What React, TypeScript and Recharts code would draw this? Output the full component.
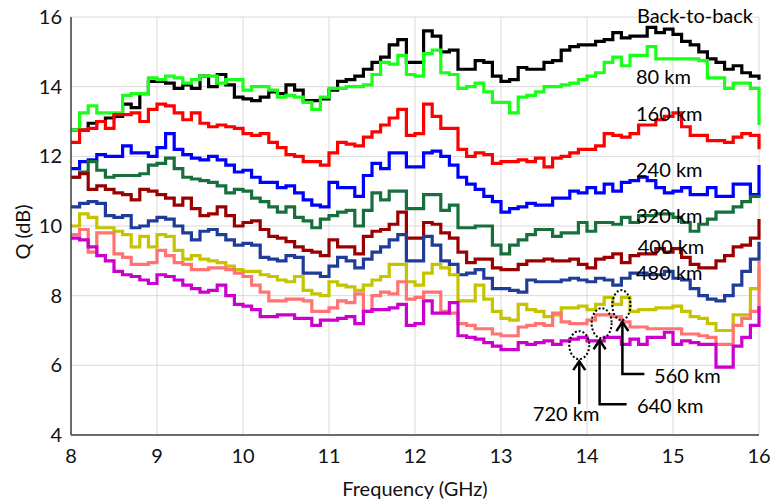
import { LineChart, Line, XAxis, YAxis, CartesianGrid, ReferenceDot } from 'recharts';

// frequency points (GHz)
const FREQ = [
  8.0, 8.1, 8.2, 8.3, 8.4, 8.5, 8.6, 8.7, 8.8, 8.9,
  9.0, 9.1, 9.2, 9.3, 9.4, 9.5, 9.6, 9.7, 9.8, 9.9,
  10.0, 10.1, 10.2, 10.3, 10.4, 10.5, 10.6, 10.7, 10.8, 10.9,
  11.0, 11.1, 11.2, 11.3, 11.4, 11.5, 11.6, 11.7, 11.8, 11.9,
  12.0, 12.1, 12.2, 12.3, 12.4, 12.5, 12.6, 12.7, 12.8, 12.9,
  13.0, 13.1, 13.2, 13.3, 13.4, 13.5, 13.6, 13.7, 13.8, 13.9,
  14.0, 14.1, 14.2, 14.3, 14.4, 14.5, 14.6, 14.7, 14.8, 14.9,
  15.0, 15.1, 15.2, 15.3, 15.4, 15.5, 15.6, 15.7, 15.8, 15.9,
  16.0,
];

// Q values (dB) per transmission distance
const B2B = [
  12.75, 12.75, 12.95, 13.0, 13.1, 13.15, 13.5, 13.4, 13.8, 14.15,
  14.15, 14.1, 13.95, 14.05, 13.95, 14.3, 14.0, 14.35, 14.05, 13.7,
  13.65, 13.6, 13.7, 13.85, 13.8, 14.05, 13.9, 13.6, 13.6, 13.65,
  13.9, 14.15, 14.2, 14.3, 14.5, 14.7, 14.85, 15.2, 15.35, 14.7,
  14.7, 15.6, 15.45, 15.0, 15.05, 14.5, 14.5, 14.75, 14.7, 14.3,
  14.15, 14.2, 14.55, 14.5, 14.5, 14.7, 14.75, 15.05, 15.15, 15.2,
  15.2, 15.3, 15.35, 15.55, 15.4, 15.45, 15.45, 15.7, 15.55, 15.65,
  15.5, 15.3, 15.2, 15.0, 14.8, 14.7, 14.5, 14.6, 14.4, 14.3,
  14.2,
];
const KM80 = [
  12.75, 13.25, 13.45, 13.25, 13.25, 13.25, 13.75, 13.8, 13.8, 14.25,
  14.2, 14.3, 14.25, 14.1, 14.2, 14.3, 14.3, 14.1, 14.2, 14.2,
  13.9, 14.0, 14.0, 13.9, 13.7, 13.75, 13.7, 13.55, 13.35, 13.7,
  13.95, 13.95, 14.0, 14.0, 14.05, 14.35, 14.7, 14.65, 14.9, 14.35,
  14.3, 14.95, 15.05, 14.4, 14.35, 13.95, 14.0, 14.1, 13.85, 13.55,
  13.55, 13.25, 13.7, 13.75, 13.85, 14.0, 14.0, 14.05, 14.1, 14.2,
  14.3, 14.4, 14.7, 14.85, 14.6, 14.9, 14.9, 15.15, 14.8, 14.8,
  14.8, 14.8, 14.8, 14.75, 14.25, 14.25, 13.95, 14.1, 14.1, 13.95,
  12.9,
];
const KM160 = [
  12.4, 12.75, 12.8, 13.0, 12.8, 13.2, 13.2, 13.25, 13.0, 13.35,
  13.5, 13.45, 13.25, 13.05, 13.25, 12.95, 12.85, 12.9, 12.85, 12.8,
  12.65, 12.6, 12.65, 12.4, 12.25, 12.05, 12.0, 11.85, 11.85, 11.75,
  12.1, 12.4, 12.35, 12.3, 12.55, 12.7, 12.9, 13.1, 13.35, 12.6,
  12.65, 13.5, 13.15, 12.8, 12.8, 12.2, 12.0, 12.1, 12.05, 11.8,
  11.85, 11.85, 11.9, 11.85, 11.95, 11.7, 11.95, 12.0, 12.1, 12.2,
  12.2, 12.3, 12.65, 12.6, 12.55, 12.65, 12.9, 12.9, 13.05, 13.15,
  13.25, 12.85, 12.6, 12.6, 12.45, 12.45, 12.4, 12.55, 12.65, 12.6,
  12.2,
];
const KM240 = [
  11.65, 11.85, 11.9, 12.05, 12.0, 12.0, 12.3, 12.1, 12.1, 12.0,
  12.25, 12.65, 12.2, 12.05, 11.95, 11.9, 12.0, 11.9, 11.75, 11.55,
  11.6, 11.4, 11.25, 11.25, 11.1, 11.15, 10.95, 10.75, 10.6, 10.55,
  11.25, 11.1, 11.1, 10.85, 11.45, 11.8, 11.65, 12.1, 12.1, 11.7,
  11.7, 12.1, 12.15, 12.0, 11.75, 11.4, 11.2, 11.05, 10.85, 10.7,
  10.4, 10.5, 10.55, 10.65, 10.6, 10.6, 10.8, 10.8, 11.0, 10.95,
  11.1, 10.95, 11.2, 11.0, 11.25, 11.3, 11.4, 11.3, 11.1, 10.95,
  11.0, 11.1, 10.9, 10.9, 11.1, 10.85, 10.85, 11.2, 11.2, 10.9,
  11.75,
];
const KM320 = [
  11.4, 11.55, 11.85, 11.6, 11.4, 11.45, 11.45, 11.45, 11.5, 11.75,
  11.8, 11.95, 11.65, 11.4, 11.35, 11.3, 11.25, 11.15, 10.95, 11.05,
  11.0, 10.8, 10.7, 10.55, 10.4, 10.55, 10.25, 10.15, 9.95, 10.2,
  10.3, 10.4, 10.45, 10.0, 10.45, 10.95, 10.75, 11.0, 11.0, 10.5,
  10.5, 10.9, 10.9, 10.45, 10.6, 9.95, 9.95, 10.0, 10.0, 9.45,
  9.2, 9.45, 9.6, 9.75, 9.9, 9.9, 9.7, 9.8, 9.8, 10.1,
  9.85, 10.1, 10.1, 10.05, 10.25, 10.1, 10.3, 10.3, 10.35, 10.35,
  10.25, 10.1, 9.85, 10.05, 10.2, 10.4, 10.4, 10.55, 10.7, 10.85,
  10.9,
];
const KM400 = [
  11.4, 11.5, 11.05, 11.15, 11.05, 10.95, 10.9, 10.75, 11.05, 11.0,
  10.9, 10.8, 10.6, 10.8, 10.5, 10.3, 10.35, 10.55, 10.3, 10.0,
  10.1, 10.15, 9.9, 9.7, 9.65, 9.55, 9.4, 9.3, 9.25, 9.15,
  9.6, 9.4, 9.4, 9.2, 9.7, 9.85, 9.9, 10.05, 10.4, 9.65,
  9.65, 10.1, 10.05, 9.8, 9.65, 9.25, 8.95, 9.05, 9.05, 8.8,
  8.75, 8.75, 8.9, 9.0, 9.0, 9.05, 9.0, 9.0, 9.05, 8.9,
  8.8, 9.05, 9.1, 9.2, 8.95, 9.15, 9.2, 9.2, 9.35, 9.25,
  9.35, 9.1, 8.9, 8.8, 8.8, 9.0, 9.15, 9.4, 9.45, 9.65,
  10.2,
];
const KM480 = [
  10.55, 10.65, 10.7, 10.65, 10.3, 10.25, 10.3, 9.95, 10.0, 10.15,
  10.25, 10.2, 10.0, 9.8, 9.6, 9.85, 9.9, 9.75, 9.6, 9.45,
  9.5, 9.45, 9.1, 9.05, 9.0, 9.15, 9.1, 8.65, 8.65, 8.55,
  8.85, 9.1, 9.0, 8.8, 9.05, 9.25, 9.4, 9.6, 9.75, 9.0,
  9.0, 9.7, 9.45, 9.0, 8.9, 8.6, 8.65, 8.75, 8.5, 8.2,
  8.2, 8.15, 8.1, 8.45, 8.4, 8.4, 8.4, 8.45, 8.5, 8.45,
  8.4, 8.5, 8.45, 8.3, 8.5, 8.65, 8.65, 8.6, 8.6, 8.7,
  8.5, 8.45, 8.2, 8.0, 7.9, 7.85, 8.0, 8.3, 8.7, 9.05,
  9.55,
];
const KM560 = [
  10.0, 10.35, 10.25, 9.95, 9.95, 9.85, 9.75, 9.4, 9.7, 9.4,
  9.75, 9.7, 9.3, 9.05, 9.15, 9.05, 9.0, 8.95, 8.85, 8.75,
  8.7, 8.7, 8.6, 8.55, 8.45, 8.4, 8.55, 8.15, 8.05, 8.0,
  8.4, 8.3, 8.25, 8.15, 8.3, 8.45, 8.55, 8.9, 8.9, 8.4,
  8.3, 8.65, 8.9, 8.8, 8.6, 7.85, 7.85, 8.3, 7.9, 7.55,
  7.35, 7.3, 7.75, 7.6, 7.55, 7.4, 7.45, 7.65, 7.65, 7.7,
  7.6, 7.75, 7.95, 7.75, 7.95, 7.55, 7.6, 7.6, 7.65, 7.65,
  7.7, 7.55, 7.4, 7.35, 7.2, 7.0, 7.0, 7.45, 7.45, 8.2,
  8.8,
];
const KM640 = [
  9.75, 9.9, 9.25, 9.8, 9.8, 9.2, 9.1, 8.9, 8.9, 8.95,
  9.3, 9.15, 8.95, 8.9, 8.75, 8.75, 8.8, 8.8, 8.75, 8.65,
  8.55, 8.3, 8.1, 7.85, 7.85, 7.9, 7.9, 7.85, 7.55, 7.55,
  7.65, 7.85, 7.8, 8.05, 7.55, 8.0, 8.1, 8.05, 8.4, 7.9,
  7.95, 8.1, 8.1, 7.55, 7.5, 7.2, 7.15, 7.05, 7.05, 6.9,
  6.85, 6.85, 7.1, 7.15, 7.2, 7.15, 7.5, 7.25, 7.2, 7.2,
  7.3, 7.45, 7.45, 7.4, 7.25, 7.1, 7.1, 7.05, 7.05, 7.05,
  7.05, 6.9, 6.9, 6.85, 6.8, 6.6, 6.6, 7.15, 7.35, 7.55,
  9.0,
];
const KM720 = [
  9.65, 9.6, 9.4, 9.15, 9.0, 8.7, 8.6, 8.55, 8.45, 8.35,
  8.6, 8.55, 8.45, 8.3, 8.2, 8.1, 8.15, 8.3, 8.0, 7.75,
  7.7, 7.6, 7.4, 7.4, 7.45, 7.45, 7.35, 7.35, 7.15, 7.3,
  7.3, 7.35, 7.4, 7.2, 7.55, 7.6, 7.6, 7.65, 7.75, 7.15,
  7.2, 7.85, 7.5, 7.5, 7.8, 6.85, 6.8, 6.75, 6.65, 6.55,
  6.45, 6.45, 6.65, 6.6, 6.65, 6.7, 6.6, 6.7, 6.75, 6.8,
  6.7, 6.7, 6.8, 6.8, 6.6, 6.75, 6.6, 6.8, 6.8, 6.95,
  6.6, 6.7, 6.65, 6.6, 6.6, 5.95, 5.95, 6.55, 6.8, 7.15,
  7.7,
];

const X_TICKS = [8, 9, 10, 11, 12, 13, 14, 15, 16];
const Y_TICKS = [4, 6, 8, 10, 12, 14, 16];

const SERIES = [
  { key: 'b2b', values: B2B, color: '#000000' },
  { key: 'km80', values: KM80, color: '#1aff1a' },
  { key: 'km160', values: KM160, color: '#ff0000' },
  { key: 'km240', values: KM240, color: '#0000ff' },
  { key: 'km320', values: KM320, color: '#17703c' },
  { key: 'km400', values: KM400, color: '#9a0000' },
  { key: 'km480', values: KM480, color: '#1f3c99' },
  { key: 'km560', values: KM560, color: '#c4c400' },
  { key: 'km640', values: KM640, color: '#ff7373' },
  { key: 'km720', values: KM720, color: '#cc00cc' },
];

// curve labels: text anchored at (f, q)
const LABELS = [
  { text: 'Back-to-back', f: 14.58, q: 16.06 },
  { text: '80 km', f: 14.57, q: 14.31 },
  { text: '160 km', f: 14.57, q: 13.24 },
  { text: '240 km', f: 14.57, q: 11.64 },
  { text: '320 km', f: 14.57, q: 10.33 },
  { text: '400 km', f: 14.59, q: 9.44 },
  { text: '480 km', f: 14.57, q: 8.67 },
  { text: '560 km', f: 14.78, q: 5.72 },
  { text: '640 km', f: 14.58, q: 4.86 },
  { text: '720 km', f: 13.37, q: 4.63 },
];

// dotted circles with arrows for the bottom three curves
const CALLOUTS = [
  { f: 13.91, q: 6.58, rx: 10, ry: 14, ax: 0, len: 59, tail: 0 },
  { f: 14.17, q: 7.21, rx: 10, ry: 15, ax: -2, len: 80, tail: 27 },
  { f: 14.4, q: 7.73, rx: 9, ry: 15, ax: 1, len: 68, tail: 22 },
];

const chartData = FREQ.map((f, i) => {
  const row: any = { f };
  SERIES.forEach((s) => (row[s.key] = s.values[i]));
  return row;
});

const FONT = 'Lato, "Open Sans", sans-serif';

// rotated y axis title
const YTitle = (props: any) => {
  const vb = props.viewBox || { x: 0, y: 17, width: 71, height: 418 };
  const x = vb.x + 22;
  const y = vb.y + vb.height / 2 + 6;
  return (
    <text x={x} y={y} transform={`rotate(-90, ${x}, ${y})`} textAnchor="middle" dominantBaseline="central" fontSize={20} fill="#111" fontFamily={FONT}>
      Q (dB)
    </text>
  );
};

export default function App() {
  return (
    <div style={{ position: 'absolute', left: 0, top: 0, background: '#fff' }}>
      <LineChart
        width={772}
        height={502}
        data={chartData}
        margin={{ top: 17, right: 13, bottom: 0, left: 0 }}
        style={{ fontFamily: FONT }}
      >
        <CartesianGrid stroke="#d9d9d9" strokeWidth={1} />
        <XAxis
          dataKey="f"
          type="number"
          domain={[8, 16]}
          ticks={X_TICKS}
          height={67}
          tickLine={false}
          tickSize={8}
          tickMargin={6}
          axisLine={{ stroke: '#404040', strokeWidth: 1.5 }}
          tick={{ fontSize: 20, fill: '#111', fontFamily: FONT }}
          label={{ value: 'Frequency (GHz)', position: 'insideBottom', offset: 6, fontSize: 20, fill: '#111', fontFamily: FONT }}
        />
        <YAxis
          type="number"
          domain={[4, 16]}
          ticks={Y_TICKS}
          width={71}
          tickLine={false}
          tickSize={8}
          tickMargin={1}
          axisLine={{ stroke: '#404040', strokeWidth: 1.5 }}
          tick={{ fontSize: 20, fill: '#111', fontFamily: FONT }}
          label={{ content: YTitle }}
        />
        {SERIES.map((s) => (
          <Line
            key={s.key}
            type="stepAfter"
            dataKey={s.key}
            stroke={s.color}
            strokeWidth={3.2}
            dot={false}
            isAnimationActive={false}
          />
        ))}
        {CALLOUTS.map((c, i) => (
          <ReferenceDot
            key={'c' + i}
            x={c.f}
            y={c.q}
            ifOverflow="visible"
            shape={(p: any) => {
              const tipY = p.cy + c.ry + 2;
              const x = p.cx + c.ax;
              const baseY = p.cy + c.ry + c.len - 14;
              return (
                <g>
                  <ellipse cx={p.cx} cy={p.cy} rx={c.rx} ry={c.ry} fill="none" stroke="#000" strokeWidth={2} strokeDasharray="2 2" />
                  <path
                    d={`M${x},${tipY} L${x},${baseY}${c.tail ? ` L${x + c.tail},${baseY}` : ''}`}
                    fill="none"
                    stroke="#000"
                    strokeWidth={2.5}
                  />
                  <path d={`M${x - 6},${tipY + 9} L${x},${tipY} L${x + 6},${tipY + 9}`} fill="none" stroke="#000" strokeWidth={2.5} />
                </g>
              );
            }}
          />
        ))}
        {LABELS.map((l) => (
          <ReferenceDot
            key={l.text}
            x={l.f}
            y={l.q}
            ifOverflow="visible"
            shape={(p: any) => (
              <text x={p.cx} y={p.cy} dominantBaseline="central" fontSize={20} fill="#000" fontFamily={FONT}>
                {l.text}
              </text>
            )}
          />
        ))}
      </LineChart>
    </div>
  );
}
